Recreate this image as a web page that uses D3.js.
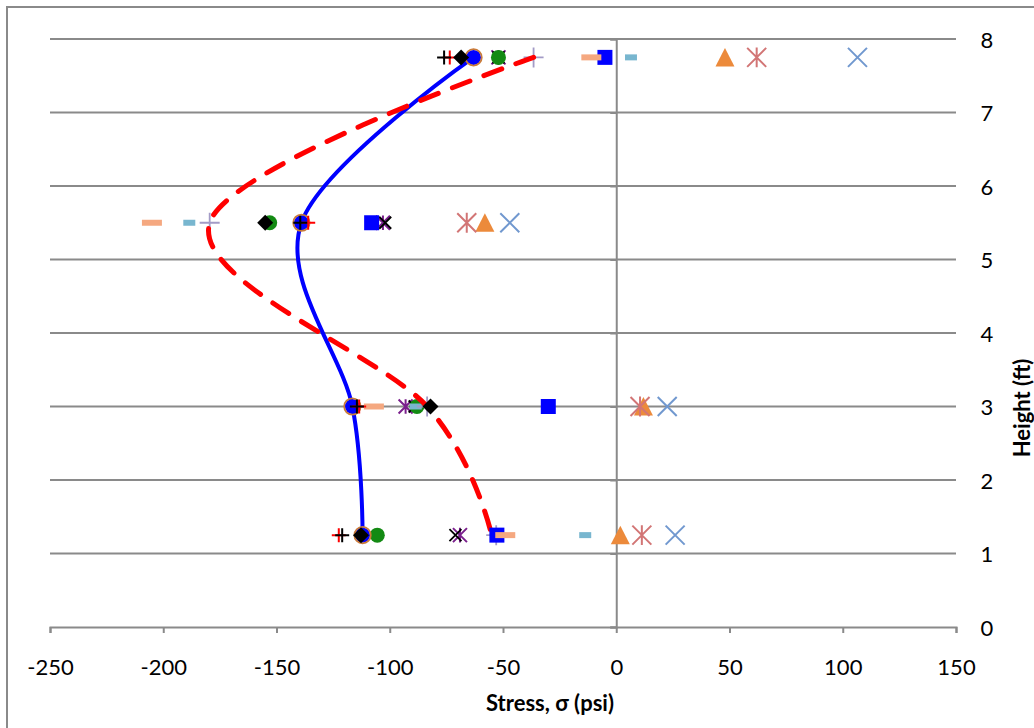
<!DOCTYPE html>
<html>
<head>
<meta charset="utf-8">
<script src="https://cdn.jsdelivr.net/npm/d3@7"></script>
<style>
  html, body { margin: 0; padding: 0; background: #fff; }
  svg { display: block; }
  text { font-family: Lato, "Liberation Sans", sans-serif; fill: #000; }
</style>
</head>
<body>
<svg id="chart" width="1034" height="728"></svg>
<script>
// Measurement heights (ft)
const heights = [7.75, 5.5, 3.0, 1.25];

// Axis ticks
const xTickValues = [-250, -200, -150, -100, -50, 0, 50, 100, 150];
const yTickValues = [0, 1, 2, 3, 4, 5, 6, 7, 8];

// Stress (psi) at each height, one array per series
const stressBlueCircle   = [-63, -139, -116.5, -112];
const stressOrangeRing   = [-63, -139, -116.5, -112];
const stressLavenderPlus = [-36.5, -179.5, -83.5, -53];
const stressDashedCurve  = [-36.5, -179.5, -83.5, -55];
const stressBlackPlus    = [-76, -139.5, -114.5, -121];
const stressRedPlus      = [-73.5, -136, -113.5, -122.5];
const stressDiamond      = [-68.5, -155, -82, -112.7];
const stressGreenCircle  = [-52, -153, -88, -105.5];
const stressPurpleStar   = [-52, -103, -93, -69];
const stressBlackCross   = [-52, -102, -89, -71];
const stressSalmonDash   = [-11, -205, -107, -49];
const stressBlueSquare   = [-5, -108, -30, -52.7];
const stressSkyDash      = [6.5, -188.5, -88.5, -13.7];
const stressTriangle     = [48, -58, 12, 1.8];
const stressRoseStar     = [62, -66, 10.5, 11.3];
const stressSteelCross   = [106.5, -47, 22.5, 26];

const svg = d3.select("#chart");

const x = d3.scaleLinear().domain([-250, 150]).range([50, 956]);
const y = d3.scaleLinear().domain([0, 8]).range([627, 39]);

const gridColor = "#8a8a8a";
const labelSize = 22;

// Outer chart frame
svg.append("rect")
  .attr("x", 7).attr("y", 7).attr("width", 1060).attr("height", 760)
  .attr("fill", "none").attr("stroke", gridColor).attr("stroke-width", 2);

// Horizontal gridlines
svg.append("g").selectAll("line")
  .data(yTickValues.filter(v => v > 0))
  .join("line")
  .attr("x1", x(-250)).attr("x2", x(150))
  .attr("y1", d => y(d)).attr("y2", d => y(d))
  .attr("stroke", gridColor).attr("stroke-width", 2);

// Horizontal axis (bottom) with outward ticks
const xAxis = d3.axisBottom(x).tickValues(xTickValues).tickSize(6).tickPadding(26)
  .tickFormat(d => String(d));
const gx = svg.append("g").attr("transform", `translate(0,${y(0)})`).call(xAxis);
gx.select(".domain").attr("stroke", gridColor).attr("stroke-width", 2);
gx.selectAll(".tick line").attr("stroke", gridColor).attr("stroke-width", 2);
gx.selectAll(".tick text").attr("font-size", labelSize).attr("font-family", null);

// Vertical axis crossing at zero stress, labels on the right side
const yAxis = d3.axisLeft(y).tickValues(yTickValues).tickSize(6).tickFormat("");
const gy = svg.append("g").attr("transform", `translate(${x(0)},0)`).call(yAxis);
gy.select(".domain").attr("stroke", gridColor).attr("stroke-width", 2);
gy.selectAll(".tick line").attr("stroke", gridColor).attr("stroke-width", 2);

svg.append("g").selectAll("text")
  .data(yTickValues)
  .join("text")
  .attr("x", 987).attr("y", d => y(d))
  .attr("text-anchor", "middle").attr("dominant-baseline", "central")
  .attr("font-size", labelSize)
  .text(d => d);

// Axis titles
svg.append("text")
  .attr("x", 550).attr("y", 711)
  .attr("text-anchor", "middle").attr("font-size", labelSize).attr("font-weight", "bold")
  .text("Stress, σ (psi)");

svg.append("text")
  .attr("transform", `translate(1030,${408}) rotate(-90)`)
  .attr("text-anchor", "middle").attr("font-size", labelSize).attr("font-weight", "bold")
  .text("Height (ft)");

// Marker shapes centred on (0,0)
const shapes = {
  circle: s => `M${s},0A${s},${s} 0 1,1 ${-s},0A${s},${s} 0 1,1 ${s},0Z`,
  square: s => `M${-s},${-s}H${s}V${s}H${-s}Z`,
  diamond: s => `M0,${-s}L${s},0L0,${s}L${-s},0Z`,
  triangle: s => `M0,${-s}L${s},${s * 0.95}L${-s},${s * 0.95}Z`,
  plus: s => `M${-s},0H${s}M0,${-s}V${s}`,
  cross: s => `M${-s},${-s}L${s},${s}M${-s},${s}L${s},${-s}`,
  star: s => `M${-s},${-s}L${s},${s}M${-s},${s}L${s},${-s}M0,${-s * 1.05}V${s * 1.05}`,
  dash: (w, h) => `M${-w / 2},${-h / 2}H${w / 2}V${h / 2}H${-w / 2}Z`
};

function drawMarkers(values, path, style) {
  const g = svg.append("g");
  g.selectAll("path")
    .data(values.map((v, i) => ({ v, h: heights[i] })))
    .join("path")
    .attr("transform", d => `translate(${x(d.v)},${y(d.h)})`)
    .attr("d", path)
    .attr("fill", style.fill || "none")
    .attr("stroke", style.stroke || "none")
    .attr("stroke-width", style.width || 0);
}

function drawCurve(values, style) {
  const line = d3.line()
    .x(d => x(d.v)).y(d => y(d.h))
    .curve(d3.curveCardinal.tension(0));
  svg.append("path")
    .datum(values.map((v, i) => ({ v, h: heights[i] })))
    .attr("d", line)
    .attr("fill", "none")
    .attr("stroke", style.stroke)
    .attr("stroke-width", style.width)
    .attr("stroke-linecap", style.cap || "butt")
    .attr("stroke-dasharray", style.dash || null);
}

// Series, back to front
drawCurve(stressBlueCircle, { stroke: "#0000ff", width: 4 });
drawMarkers(stressPurpleStar, shapes.star(7), { stroke: "#7a1f8c", width: 2 });
drawMarkers(stressBlackCross, shapes.cross(6), { stroke: "#000", width: 1.8 });
drawMarkers(stressGreenCircle, shapes.circle(7.5), { fill: "#138a13" });
drawMarkers(stressSkyDash, shapes.dash(12, 6), { fill: "#78b6cf" });
drawMarkers(stressLavenderPlus, shapes.plus(10), { stroke: "#a39bc6", width: 1.8 });
drawCurve(stressDashedCurve, { stroke: "#ff0000", width: 5, dash: "19,15", cap: "round" });
drawMarkers(stressBlueSquare, shapes.square(7.5), { fill: "#0000ff" });
drawMarkers(stressSalmonDash, shapes.dash(20, 6), { fill: "#f5a880" });
drawMarkers(stressBlueCircle, shapes.circle(7.5), { fill: "#0000ff" });
drawMarkers(stressOrangeRing, shapes.circle(8.2), { stroke: "#c97b3a", width: 1.8 });
drawMarkers(stressRedPlus, shapes.plus(7), { stroke: "#ff0000", width: 2 });
drawMarkers(stressBlackPlus, shapes.plus(7), { stroke: "#000", width: 2 });
drawMarkers(stressDiamond, shapes.diamond(8), { fill: "#000" });
drawMarkers(stressTriangle, shapes.triangle(9.5), { fill: "#ec8a3b" });
drawMarkers(stressRoseStar, shapes.star(9.5), { stroke: "#d27575", width: 2 });
drawMarkers(stressSteelCross, shapes.cross(9.5), { stroke: "#7198cf", width: 2 });
</script>
</body>
</html>
